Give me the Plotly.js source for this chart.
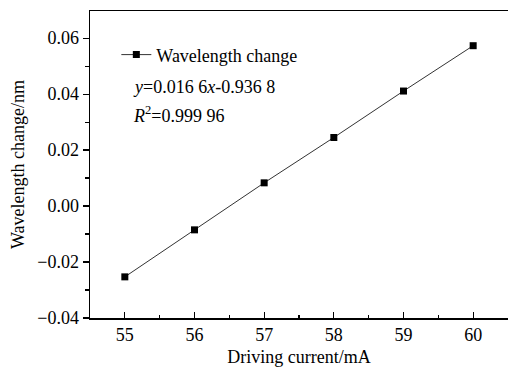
<!DOCTYPE html>
<html><head><meta charset="utf-8">
<script src="https://cdn.plot.ly/plotly-3.0.1.min.js"></script>
<style>html,body{margin:0;padding:0;overflow:hidden;background:#fff}</style>
</head><body><div id="chart" style="width:508px;height:367px"></div>
<script>
const current = [55, 56, 57, 58, 59, 60];
const wavelengthChange = [-0.0253, -0.0085, 0.0083, 0.0245, 0.0411, 0.0573];
const seriesName = 'Wavelength change';
const equationText = '<i>y</i>=0.016 6<i>x</i>-0.936 8';
const r2Text = '<i>R</i><sup>2</sup>=0.999 96';
const xTicks = [55, 56, 57, 58, 59, 60];
const yTicks = [-0.04, -0.02, 0.00, 0.02, 0.04, 0.06];

const font = {family: '"Liberation Serif", "Times New Roman", serif', size: 18, color: '#000'};

Plotly.newPlot('chart', [{
  x: current, y: wavelengthChange, name: seriesName,
  type: 'scatter', mode: 'lines+markers',
  line: {color: '#333', width: 1},
  marker: {symbol: 'square', size: 7, color: '#000'}
}], {
  width: 508, height: 367,
  margin: {l: 90, r: 0, t: 11, b: 49},
  paper_bgcolor: '#fff', plot_bgcolor: '#fff',
  font: font,
  showlegend: true,
  legend: {x: 0.063, y: 0.857, xanchor: 'left', yanchor: 'middle', bgcolor: 'rgba(0,0,0,0)', font: font, itemwidth: 30},
  xaxis: {
    range: [54.5, 60.5], tickvals: xTicks, ticks: 'inside', ticklen: 6, tickwidth: 1.2, tickcolor: '#000',
    showline: true, linecolor: '#000', linewidth: 1.5, mirror: true, showgrid: false, zeroline: false,
    minor: {dtick: 0.5, tick0: 54.5, ticks: 'inside', ticklen: 3, tickcolor: '#000', showgrid: false},
    title: {text: 'Driving current/mA', font: font, standoff: 11},
    tickfont: font
  },
  yaxis: {
    range: [-0.04, 0.0697], tickvals: yTicks, tickformat: '.2f', ticks: 'outside', ticklen: 6, tickwidth: 1.2, tickcolor: '#000',
    showline: true, linecolor: '#000', linewidth: 1.5, showgrid: false, zeroline: false,
    minor: {dtick: 0.01, tick0: 0, ticks: 'outside', ticklen: 4, tickcolor: '#000', showgrid: false},
    title: {text: 'Wavelength change/nm', font: font, standoff: 8},
    tickfont: font
  },
  annotations: [
    {xref: 'paper', yref: 'paper', x: 0.097, y: 0.752, xanchor: 'left', yanchor: 'middle', text: equationText, showarrow: false, font: font},
    {xref: 'paper', yref: 'paper', x: 0.097, y: 0.662, xanchor: 'left', yanchor: 'middle', text: r2Text, showarrow: false, font: font}
  ]
}, {displayModeBar: false, staticPlot: true});
</script></body></html>
